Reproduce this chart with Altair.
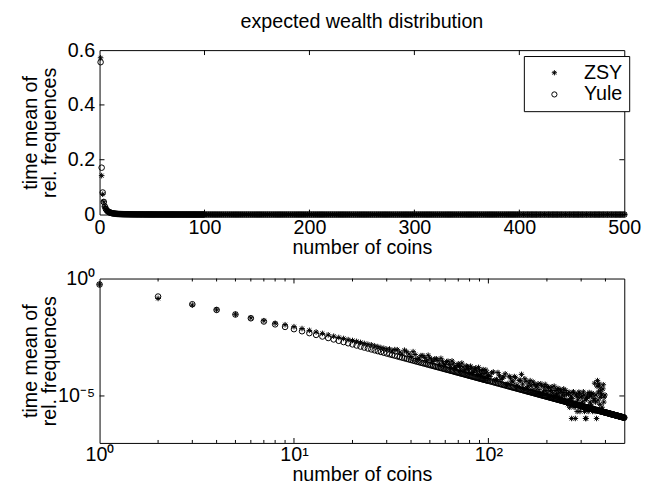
import altair as alt
import pandas as pd

FONT = "Liberation Sans"
W, H = 533, 167
AST = "M0,-1L0,1M-1,0L1,0M-0.7,-0.7L0.7,0.7M-0.7,0.7L0.7,-0.7"
MSIZE = 32

# number of coins (x positions)
coins_a = list(range(1, 31))
coins_b = list(range(32, 101, 2))
coins_c = list(range(104, 501, 4))
# extra observations between the ones above
coins_d = list(range(31, 100, 2))    # ZSY and Yule
coins_e = list(range(102, 399, 4))   # ZSY
coins_g = list(range(102, 499, 4))   # Yule

# Yule: time mean of relative frequencies
yule_a = [0.556, 0.171, 0.0804, 0.0460, 0.0294, 0.0203, 0.0148, 0.0112, 0.00872, 0.00698,
          0.00570, 0.00473, 0.00398, 0.00340, 0.00293, 0.00255, 0.00223, 0.00197, 0.00175, 0.00157,
          0.00141, 0.00127, 0.00115, 0.00105, 0.000960, 0.000881, 0.000811, 0.000748, 0.000693, 0.000643]
yule_b = [5.56e-4, 4.87e-4, 4.29e-4, 3.81e-4, 3.40e-4, 3.05e-4, 2.75e-4, 2.49e-4, 2.27e-4, 2.07e-4,
          1.90e-4, 1.745e-4, 1.61e-4, 1.49e-4, 1.38e-4, 1.284e-4, 1.196e-4, 1.117e-4, 1.045e-4, 9.80e-5,
          9.19e-5, 8.65e-5, 8.15e-5, 7.69e-5, 7.27e-5, 6.88e-5, 6.52e-5, 6.19e-5, 5.87e-5, 5.59e-5,
          5.32e-5, 5.07e-5, 4.84e-5, 4.62e-5, 4.42e-5]
yule_c = [4.05e-5, 3.72e-5, 3.43e-5, 3.17e-5, 2.94e-5, 2.73e-5, 2.54e-5, 2.37e-5, 2.22e-5, 2.08e-5,
          1.95e-5, 1.84e-5, 1.73e-5, 1.63e-5, 1.54e-5, 1.46e-5, 1.38e-5, 1.31e-5, 1.25e-5, 1.18e-5,
          1.13e-5, 1.07e-5, 1.02e-5, 9.78e-6, 9.35e-6, 8.94e-6, 8.56e-6, 8.20e-6, 7.86e-6, 7.55e-6,
          7.25e-6, 6.97e-6, 6.70e-6, 6.45e-6, 6.21e-6, 5.98e-6, 5.77e-6, 5.57e-6, 5.37e-6, 5.19e-6,
          5.01e-6, 4.85e-6, 4.69e-6, 4.54e-6, 4.39e-6, 4.26e-6, 4.12e-6, 4.00e-6, 3.88e-6, 3.76e-6,
          3.65e-6, 3.55e-6, 3.45e-6, 3.35e-6, 3.25e-6, 3.17e-6, 3.08e-6, 3.00e-6, 2.92e-6, 2.84e-6,
          2.77e-6, 2.70e-6, 2.63e-6, 2.56e-6, 2.50e-6, 2.44e-6, 2.38e-6, 2.32e-6, 2.27e-6, 2.21e-6,
          2.16e-6, 2.11e-6, 2.06e-6, 2.02e-6, 1.97e-6, 1.93e-6, 1.89e-6, 1.85e-6, 1.81e-6, 1.77e-6,
          1.73e-6, 1.69e-6, 1.66e-6, 1.62e-6, 1.59e-6, 1.56e-6, 1.53e-6, 1.50e-6, 1.47e-6, 1.44e-6,
          1.41e-6, 1.39e-6, 1.36e-6, 1.33e-6, 1.31e-6, 1.28e-6, 1.26e-6, 1.24e-6, 1.22e-6, 1.19e-6]
yule_d = [5.98e-4, 5.21e-4, 4.57e-4, 4.04e-4, 3.60e-4, 3.22e-4, 2.90e-4, 2.62e-4, 2.38e-4, 2.17e-4,
          1.98e-4, 1.82e-4, 1.68e-4, 1.55e-4, 1.43e-4, 1.33e-4, 1.24e-4, 1.16e-4, 1.08e-4, 1.01e-4,
          9.50e-5, 8.92e-5, 8.40e-5, 7.92e-5, 7.48e-5, 7.07e-5, 6.70e-5, 6.35e-5, 6.03e-5, 5.73e-5,
          5.45e-5, 5.19e-5, 4.95e-5, 4.73e-5, 4.52e-5]
yule_g = [4.23e-5, 3.88e-5, 3.57e-5, 3.30e-5, 3.05e-5, 2.83e-5, 2.63e-5, 2.45e-5, 2.29e-5, 2.15e-5,
          2.01e-5, 1.89e-5, 1.78e-5, 1.68e-5, 1.58e-5, 1.50e-5, 1.42e-5, 1.345e-5, 1.28e-5, 1.21e-5,
          1.155e-5, 1.10e-5, 1.045e-5, 1.00e-5, 9.56e-6, 9.14e-6, 8.75e-6, 8.38e-6, 8.03e-6, 7.70e-6,
          7.40e-6, 7.11e-6, 6.83e-6, 6.57e-6, 6.33e-6, 6.09e-6, 5.87e-6, 5.67e-6, 5.47e-6, 5.28e-6,
          5.10e-6, 4.93e-6, 4.77e-6, 4.61e-6, 4.46e-6, 4.32e-6, 4.19e-6, 4.06e-6, 3.94e-6, 3.82e-6,
          3.70e-6, 3.60e-6, 3.50e-6, 3.40e-6, 3.30e-6, 3.21e-6, 3.12e-6, 3.04e-6, 2.96e-6, 2.88e-6,
          2.81e-6, 2.73e-6, 2.66e-6, 2.60e-6, 2.53e-6, 2.47e-6, 2.41e-6, 2.35e-6, 2.30e-6, 2.24e-6,
          2.19e-6, 2.14e-6, 2.09e-6, 2.04e-6, 2.00e-6, 1.95e-6, 1.91e-6, 1.87e-6, 1.83e-6, 1.79e-6,
          1.75e-6, 1.71e-6, 1.675e-6, 1.64e-6, 1.605e-6, 1.575e-6, 1.545e-6, 1.515e-6, 1.485e-6, 1.455e-6,
          1.425e-6, 1.40e-6, 1.375e-6, 1.345e-6, 1.32e-6, 1.295e-6, 1.27e-6, 1.25e-6, 1.23e-6, 1.205e-6]

# ZSY: time mean of relative frequencies (0 = not observed)
zsy_a = [0.572, 0.142, 0.0740, 0.0465, 0.0300, 0.0212, 0.0160, 0.0125, 0.0108, 0.0089,
         0.0074, 0.0062, 0.0053, 0.0046, 0.0040, 0.0035, 0.0031, 0.0028, 0.0025, 0.0023,
         0.0021, 0.0019, 0.00172, 0.00158, 0.00150, 0.00136, 0.00126, 0.00114, 0.00106, 0.00098]
zsy_b = [8.3e-4, 9.3e-4, 6.0e-4, 7.6e-4, 4.8e-4, 5.8e-4, 4.1e-4, 5.2e-4, 3.2e-4, 4.1e-4,
         2.9e-4, 3.8e-4, 2.25e-4, 3.0e-4, 2.1e-4, 3.0e-4, 1.67e-4, 2.35e-4, 1.57e-4, 2.35e-4,
         1.29e-4, 1.73e-4, 1.30e-4, 1.77e-4, 9.5e-5, 1.51e-4, 1.04e-4, 1.55e-4, 8.2e-5, 1.17e-4,
         8.5e-5, 1.32e-4, 6.3e-5, 1.02e-4, 7.5e-5]
zsy_c = [9.7e-5, 4.8e-5, 9.9e-5, 5.1e-5, 6.5e-5, 3.0e-5, 6.9e-5, 4.3e-5, 6.7e-5, 2.9e-5,
         4.5e-5, 8.3e-5, 2.1e-5, 4.2e-5, 2.6e-5, 4.5e-5, 1.8e-5, 3.1e-5, 2.4e-5, 3.3e-5,
         1.24e-5, 2.7e-5, 1.6e-5, 3.1e-5, 1.3e-5, 2.3e-5, 1.6e-5, 2.4e-5, 9.4e-6, 1.7e-5,
         1.2e-5, 2.1e-5, 8.7e-6, 1.6e-5, 1.1e-5, 2.0e-5, 5.8e-6, 1.2e-5, 4.4e-6, 1.45e-5,
         7.7e-6, 1.1e-6, 1.4e-5, 3.3e-6, 1.1e-6, 1.1e-5, 6.6e-6, 1.45e-5, 2.2e-6, 8.8e-6,
         5.5e-6, 1.5e-5, 2.2e-6, 1.1e-6, 7.7e-6, 1.2e-5, 3.3e-6, 9.9e-6, 4.4e-6, 1.3e-5,
         2.2e-6, 6.6e-6, 3.5e-5, 5.5e-6, 1.1e-6, 4.5e-5, 1.5e-5, 2.6e-5, 8.8e-6, 1.3e-5,
         3.3e-6, 2.0e-5, 5.5e-6, 0, 0, 0, 0, 0, 0, 0,
         0, 0, 0, 0, 0, 0, 0, 0, 0, 0,
         0, 0, 0, 0, 0, 0, 0, 0, 0, 0]
zsy_d = [1.0e-3, 9.4e-4, 7.3e-4, 8.9e-4, 6.1e-4, 7.7e-4, 3.8e-4, 5.2e-4, 4.3e-4, 5.4e-4,
         3.4e-4, 3.8e-4, 3.2e-4, 4.0e-4, 2.3e-4, 2.9e-4, 2.2e-4, 3.1e-4, 1.6e-4, 2.0e-4,
         1.8e-4, 2.5e-4, 1.18e-4, 1.9e-4, 1.35e-4, 1.85e-4, 1.0e-4, 1.4e-4, 1.14e-4, 1.65e-4,
         7.6e-5, 1.2e-4, 8.9e-5, 1.28e-4, 6.8e-5]
zsy_e = [6.8e-5, 1.05e-4, 5.0e-5, 7.3e-5, 5.8e-5, 8.8e-5, 3.4e-5, 5.9e-5, 3.9e-5, 6.0e-5,
         2.4e-5, 4.7e-5, 3.2e-5, 5.4e-5, 2.2e-5, 3.5e-5, 2.7e-5, 3.9e-5, 1.66e-5, 2.7e-5,
         1.85e-5, 3.3e-5, 1.25e-5, 2.4e-5, 1.7e-5, 2.5e-5, 9.6e-6, 1.76e-5, 1.3e-5, 2.6e-5,
         1.04e-5, 1.8e-5, 1.3e-5, 1.9e-5, 7.6e-6, 1.4e-5, 1.0e-5, 1.7e-5, 6.6e-6, 1.2e-5,
         3.3e-6, 1.0e-5, 7.7e-6, 1.5e-5, 4.4e-6, 1.1e-5, 2.2e-6, 8.8e-6, 1.3e-5, 3.3e-6,
         9.9e-6, 4.4e-6, 1.1e-5, 6.6e-6, 1.1e-6, 8.8e-6, 2.2e-6, 1.4e-5, 5.5e-6, 9.9e-6,
         3.3e-6, 1.2e-5, 7.7e-6, 2.2e-6, 1.1e-5, 2.6e-5, 6.6e-6, 3.3e-5, 4.4e-6, 1.8e-5,
         1.1e-5, 2.2e-6, 3.0e-5, 8.8e-6, 1.1e-5]

zsy_x = coins_a + coins_b + coins_c + coins_d + coins_e
zsy_y = zsy_a + zsy_b + zsy_c + zsy_d + zsy_e
yule_x = coins_a + coins_b + coins_c + coins_d + coins_g
yule_y = yule_a + yule_b + yule_c + yule_d + yule_g
assert len(zsy_x) == len(zsy_y), (len(zsy_x), len(zsy_y))
assert len(yule_x) == len(yule_y), (len(yule_x), len(yule_y))

rows = [{"coins": c, "freq": v, "series": "ZSY"} for c, v in zip(zsy_x, zsy_y)]
rows += [{"coins": c, "freq": v, "series": "Yule"} for c, v in zip(yule_x, yule_y)]
df = pd.DataFrame(rows)

# tick positions
lin_xticks = [100, 200, 300, 400]
lin_yticks = [0.2, 0.4]
log_xmajor = [10, 100]
log_xminor = [2, 3, 4, 5, 6, 7, 8, 9, 20, 30, 40, 50, 60, 70, 80, 90, 200, 300, 400]
log_yticks = [1e-5]

shape_scale = alt.Scale(domain=["ZSY", "Yule"], range=[AST, "circle"])
YTITLE = ["time mean of", "rel. frequences"]
YT = dict(titleX=-60, titleY=H / 2, titleLineHeight=19)


def inward_ticks(xs_major, xs_minor, ys, xscale, yscale):
    layers = []
    for vals, ln in ((xs_major, 5), (xs_minor, 3)):
        if not vals:
            continue
        d = pd.DataFrame({"coins": vals})
        b = alt.Chart(d).mark_rule(color="black", strokeWidth=1)
        xx = alt.X("coins:Q", scale=xscale, axis=None)
        layers.append(b.encode(x=xx, y=alt.value(H), y2=alt.value(H - ln)))
        layers.append(b.encode(x=xx, y=alt.value(0), y2=alt.value(ln)))
    d = pd.DataFrame({"freq": ys})
    b = alt.Chart(d).mark_rule(color="black", strokeWidth=1)
    yy = alt.Y("freq:Q", scale=yscale, axis=None)
    layers.append(b.encode(y=yy, x=alt.value(0), x2=alt.value(5)))
    layers.append(b.encode(y=yy, x=alt.value(W), x2=alt.value(W - 5)))
    return layers


# ---- top panel (linear)
x_lin = alt.Scale(domain=[0, 500], nice=False, zero=False)
y_lin = alt.Scale(domain=[0, 0.6], nice=False)

pts_top = alt.Chart(df).mark_point(filled=False, size=MSIZE, strokeWidth=1, color="black", opacity=1).encode(
    x=alt.X("coins:Q", scale=x_lin,
            axis=alt.Axis(values=[0, 100, 200, 300, 400, 500], title="number of coins",
                          labelFlush=False, labelOverlap=False, labelPadding=3, titlePadding=1)),
    y=alt.Y("freq:Q", scale=y_lin,
            axis=alt.Axis(values=[0, 0.2, 0.4, 0.6], format="~g", title=YTITLE,
                          labelFlush=False, labelOverlap=False, labelPadding=5, **YT)),
    shape=alt.Shape("series:N", scale=shape_scale, sort=["ZSY", "Yule"],
                    legend=alt.Legend(title=None, orient="none", legendX=431, legendY=6,
                                      strokeColor="black", fillColor="white", padding=7,
                                      rowPadding=2, labelFontSize=20, labelFont=FONT,
                                      labelColor="black", symbolStrokeColor="black",
                                      symbolFillColor="transparent", symbolStrokeWidth=1,
                                      symbolSize=28, symbolOffset=14, labelOffset=20,
                                      cornerRadius=0)),
)

top = alt.layer(pts_top, *inward_ticks(lin_xticks, [], lin_yticks, x_lin, y_lin)).resolve_axis(
    x="independent", y="independent").properties(
    width=W, height=H,
    title=alt.TitleParams("expected wealth distribution", anchor="middle", frame="group", offset=8),
)

# ---- bottom panel (log-log)
x_log = alt.Scale(type="log", domain=[1, 500], nice=False)
y_log = alt.Scale(type="log", domain=[1e-7, 1], nice=False)

pts_bot = alt.Chart(df).transform_filter("datum.freq > 0").mark_point(
    filled=False, size=MSIZE, strokeWidth=1, color="black", opacity=1).encode(
    x=alt.X("coins:Q", scale=x_log,
            axis=alt.Axis(values=[1, 10, 100], title="number of coins",
                          labelExpr="datum.value == 1 ? '10⁰' : (datum.value == 10 ? '10¹' : '10²')",
                          labelFlush=False, labelOverlap=False, labelPadding=2, titlePadding=0)),
    y=alt.Y("freq:Q", scale=y_log,
            axis=alt.Axis(values=[1e-5, 1], title=YTITLE,
                          labelExpr="datum.value >= 0.5 ? '10⁰' : '10⁻⁵'",
                          labelFlush=False, labelOverlap=False, labelPadding=5, **YT)),
    shape=alt.Shape("series:N", scale=shape_scale, legend=None),
)

bottom = alt.layer(pts_bot, *inward_ticks(log_xmajor, log_xminor, log_yticks, x_log, y_log)).resolve_axis(
    x="independent", y="independent").properties(width=W, height=H)

chart = alt.vconcat(top, bottom, spacing=65, bounds="flush").properties(
    padding={"left": 12, "top": 0, "right": 0, "bottom": 0}
).configure_view(stroke="black", strokeWidth=1).configure_axis(
    grid=False, ticks=False, domain=False, labelFont=FONT, labelFontSize=20, labelColor="black",
    titleFont=FONT, titleFontSize=20, titleFontWeight="normal", titleColor="black"
).configure_title(font=FONT, fontSize=20, fontWeight="normal", color="black")

chart.save("out.html", embed_options={"renderer": "svg", "actions": False})
